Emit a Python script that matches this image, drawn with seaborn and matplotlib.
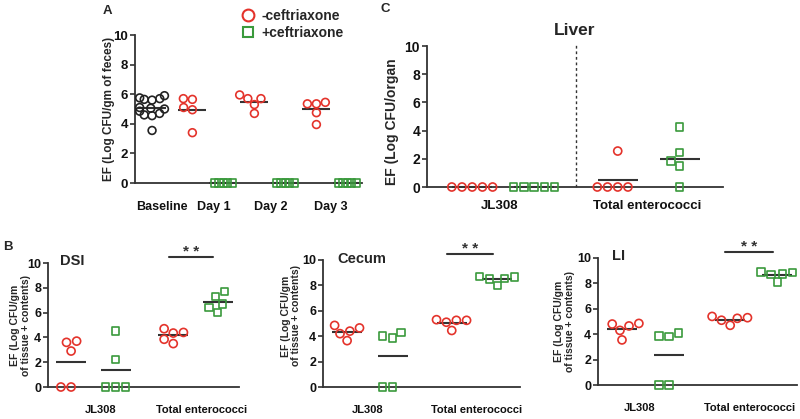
import warnings
warnings.filterwarnings("ignore")
import numpy as np
import pandas as pd
import matplotlib
matplotlib.use("Agg")
import matplotlib.pyplot as plt
import seaborn as sns
from matplotlib.markers import MarkerStyle
from matplotlib.lines import Line2D

sns.set_theme(style="ticks")
plt.rcParams['font.family'] = ['Liberation Sans', 'DejaVu Sans']
plt.rcParams['font.weight'] = 'bold'
plt.rcParams['axes.labelweight'] = 'bold'
plt.rcParams['xtick.color'] = '#111111'
plt.rcParams['ytick.color'] = '#333333'
plt.rcParams['ytick.labelcolor'] = '#111111'
plt.rcParams['xtick.labelcolor'] = '#111111'

RED = '#e4332b'
GREEN = '#3a9a3c'
BLACK = '#222222'
AXC = '#333333'
PAL = {"base": BLACK, "minus": RED, "plus": GREEN}

# ---------------- data ----------------
# Panel A: feces
a_baseline = [5.9, 5.75, 5.7, 5.65, 5.6, 5.1, 5.05, 5.0, 4.85, 4.7, 4.6, 4.55, 3.55]
a_day1_minus = [5.7, 5.65, 5.1, 4.95, 3.4]
a_day1_plus = [0, 0, 0, 0, 0]
a_day2_minus = [5.7, 5.7, 5.95, 5.3, 4.7]
a_day2_plus = [0, 0, 0, 0, 0]
a_day3_minus = [5.45, 5.35, 5.35, 4.75, 3.95]
a_day3_plus = [0, 0, 0, 0, 0]
a_tick_labels = ["Baseline", "Day 1", "Day 2", "Day 3"]

# Panel C: liver
liver_jl308_minus = [0, 0, 0, 0, 0]
liver_jl308_plus = [0, 0, 0, 0, 0]
liver_total_minus = [2.55, 0, 0, 0, 0]
liver_total_plus = [4.25, 2.45, 1.85, 1.5, 0]

# Panel B: DSI, Cecum, LI
dsi_jl308_minus = [3.6, 3.7, 2.9, 0, 0]
dsi_jl308_plus = [4.5, 2.2, 0, 0, 0]
dsi_total_minus = [4.4, 4.35, 4.7, 3.5, 3.85]
dsi_total_plus = [7.7, 7.3, 6.7, 6.0, 6.4]

cecum_jl308_minus = [4.85, 4.65, 4.4, 4.2, 3.65]
cecum_jl308_plus = [4.0, 3.85, 4.3, 0, 0]
cecum_total_minus = [5.25, 5.25, 5.3, 5.1, 4.45]
cecum_total_plus = [8.7, 8.55, 8.5, 8.65, 8.0]

li_jl308_minus = [4.8, 4.65, 4.85, 4.3, 3.55]
li_jl308_plus = [3.85, 3.8, 4.1, 0, 0]
li_total_minus = [5.4, 5.25, 5.1, 4.7, 5.3]
li_total_plus = [8.75, 8.9, 8.7, 8.85, 8.1]

b_tick_labels = ["JL308", "Total enterococci"]
legend_labels = ["-ceftriaxone", "+ceftriaxone"]
y_ticks = [0, 2, 4, 6, 8, 10]

W, H = 800, 419
fig = plt.figure(figsize=(W / 100, H / 100), dpi=100)


def fx(px):
    return px / W


def fy(py):
    return 1 - py / H


def add_ax(left, top, right, bottom):
    return fig.add_axes([fx(left), fy(bottom), (right - left) / W, (bottom - top) / H])


def build(groups, positions):
    rows = []
    for (hue, vals), pos in zip(groups, positions):
        for v in vals:
            rows.append({"pos": pos, "value": v, "group": hue})
    return pd.DataFrame(rows)


sq = MarkerStyle('s')
SQ_PATH = sq.get_path().transformed(sq.get_transform())
RESIZE = []  # (collection, display size) fixed after first layout pass


def draw_panel(ax, df, disp_size, swarm_sizes, mean_len, xlim, ysize):
    ax.set_xlim(*xlim)
    ax.set_ylim(0, 10)
    sns.pointplot(data=df, x="pos", y="value", native_scale=True, estimator="mean",
                  errorbar=None, color=AXC, marker="_", markersize=mean_len,
                  markeredgewidth=1.5, linestyle="none", ax=ax, zorder=2)
    for hue in ["base", "minus", "plus"]:
        sub = df[df["group"] == hue]
        if sub.empty:
            continue
        n0 = len(ax.collections)
        sns.swarmplot(data=sub, x="pos", y="value", hue="group", palette=PAL,
                      native_scale=True, size=swarm_sizes[hue], ax=ax,
                      legend=False, linewidth=0)
        for coll in ax.collections[n0:]:
            fc = coll.get_facecolors()
            if len(fc) == 0:
                continue
            if hue == "plus":
                coll.set_paths([SQ_PATH])
            coll.set_edgecolors(fc.copy())
            coll.set_facecolors('none')
            coll.set_linewidths(1.2)
            coll.set_clip_on(False)
            coll.set_zorder(3)
            RESIZE.append((coll, disp_size * (0.92 if hue == "plus" else 1.0)))
    ax.set_xlim(*xlim)
    ax.set_ylim(0, 10)
    ax.set_yticks(y_ticks, labels=[str(t) for t in y_ticks],
                  fontweight='bold', fontsize=ysize)
    ax.set_xlabel("")
    sns.despine(ax=ax)
    for s in ("left", "bottom"):
        ax.spines[s].set_linewidth(1.3)
        ax.spines[s].set_color(AXC)
    ax.tick_params(axis='y', length=3.5, width=1.2, pad=1.5, labelsize=ysize)
    ax.tick_params(axis='x', length=0)


# ---------------- Panel A ----------------
axA = add_ax(135, 35, 362, 183)
a_groups = [("base", a_baseline), ("minus", a_day1_minus), ("plus", a_day1_plus),
            ("minus", a_day2_minus), ("plus", a_day2_plus),
            ("minus", a_day3_minus), ("plus", a_day3_plus)]
a_pos = [0, 1.3, 2.3, 3.3, 4.3, 5.3, 6.3]
draw_panel(axA, build(a_groups, a_pos), 5.6, {"base": 4.2, "minus": 5.0, "plus": 1.8},
           20, (-0.55, 6.77), 9.5)
axA.set_xticks([0.32, 2.0, 3.84, 5.77], labels=a_tick_labels, fontweight='bold', fontsize=9)
axA.tick_params(axis='x', pad=13, labelsize=9)
axA.set_ylabel("EF (Log CFU/gm of feces)", fontsize=8.5, fontweight='bold')
axA.yaxis.set_label_coords(-0.09, 0.5)

handles = [Line2D([], [], marker='o', linestyle='none', markerfacecolor='none',
                  markeredgecolor=RED, markeredgewidth=1.5, markersize=8.5),
           Line2D([], [], marker='s', linestyle='none', markerfacecolor='none',
                  markeredgecolor=GREEN, markeredgewidth=1.5, markersize=7.5)]
fig.legend(handles, legend_labels, loc='upper left', bbox_to_anchor=(fx(241), fy(9)),
           frameon=False, borderpad=0, borderaxespad=0, handlelength=1.0,
           handletextpad=0.5, labelspacing=0.2, prop={'size': 10, 'weight': 'bold'})

# ---------------- Panel C ----------------
axC = add_ax(427, 46, 723, 187)
c_groups = [("minus", liver_jl308_minus), ("plus", liver_jl308_plus),
            ("minus", liver_total_minus), ("plus", liver_total_plus)]
c_pos = [0, 1, 2.35, 3.35]
draw_panel(axC, build(c_groups, c_pos), 5.8, {"base": 5.8, "minus": 5.8, "plus": 5.8},
           29, (-0.73, 4.05), 10)
axC.set_xticks([0.44, 2.82], labels=b_tick_labels, fontweight='bold', fontsize=9.5)
axC.tick_params(axis='x', pad=9, labelsize=9.5)
axC.set_ylabel("EF (Log CFU/organ", fontsize=10, fontweight='bold')
axC.yaxis.set_label_coords(-0.095, 0.46)
axC.axvline((c_pos[1] + c_pos[2]) / 2, ymin=0, ymax=1.02, color=AXC, lw=1,
            linestyle=(0, (2, 2)), clip_on=False)
axC.set_title("Liver", fontsize=12.5, fontweight='bold', pad=8)

# ---------------- Panel B ----------------
b_pos = [0, 1, 2.3, 3.3]
b_panels = [
    ("DSI", (48, 263, 239, 387), (-0.52, 3.78), [0.67, 2.94], -0.09, 0.5,
     [dsi_jl308_minus, dsi_jl308_plus, dsi_total_minus, dsi_total_plus], (60, 261)),
    ("Cecum", (323, 260, 520, 387), (-0.53, 3.80), [0.44, 2.84], -0.11, 0.56,
     [cecum_jl308_minus, cecum_jl308_plus, cecum_total_minus, cecum_total_plus], (337, 259)),
    ("LI", (598, 258, 797, 385), (-0.51, 3.72), [0.38, 2.72], -0.115, 0.5,
     [li_jl308_minus, li_jl308_plus, li_total_minus, li_total_plus], (612, 256)),
]
for title, box, xl, ticks, lx, ly, vals, tpos in b_panels:
    ax = add_ax(*box)
    groups = list(zip(["minus", "plus", "minus", "plus"], vals))
    draw_panel(ax, build(groups, b_pos), 5.8, {"base": 5.8, "minus": 5.8, "plus": 5.8},
               21, xl, 9)
    ax.set_xticks(ticks, labels=b_tick_labels, fontweight='bold', fontsize=8)
    ax.tick_params(axis='x', pad=13, labelsize=8)
    ax.set_ylabel("EF (Log CFU/gm\nof tissue + contents)", fontsize=7.5,
                  fontweight='bold', linespacing=1.1)
    ax.yaxis.set_label_coords(lx, ly)
    fig.text(fx(tpos[0]), fy(tpos[1]), title, fontsize=10.5, fontweight='bold',
             ha='left', va='center')
    x0, x1 = b_pos[2] - 0.1, b_pos[3] - 0.1
    ax.plot([x0, x1], [10.5, 10.5], color=AXC, lw=1.5, clip_on=False)
    ax.text((x0 + x1) / 2, 10.3, "* *", fontsize=11, fontweight='bold',
            ha='center', va='bottom', color=AXC, clip_on=False)

# panel letters
fig.text(fx(107), fy(11), "A", fontsize=9.5, fontweight='bold', ha='center', va='center')
fig.text(fx(8), fy(247), "B", fontsize=9.5, fontweight='bold', ha='center', va='center')
fig.text(fx(385), fy(9), "C", fontsize=9.5, fontweight='bold', ha='center', va='center')

# first pass: let seaborn place the swarms, then freeze them at the display size
fig.canvas.draw()
for coll, size in RESIZE:
    if 'draw' in coll.__dict__:
        del coll.__dict__['draw']
    coll.set_sizes([size ** 2])

fig.savefig("out.png", dpi=100)
